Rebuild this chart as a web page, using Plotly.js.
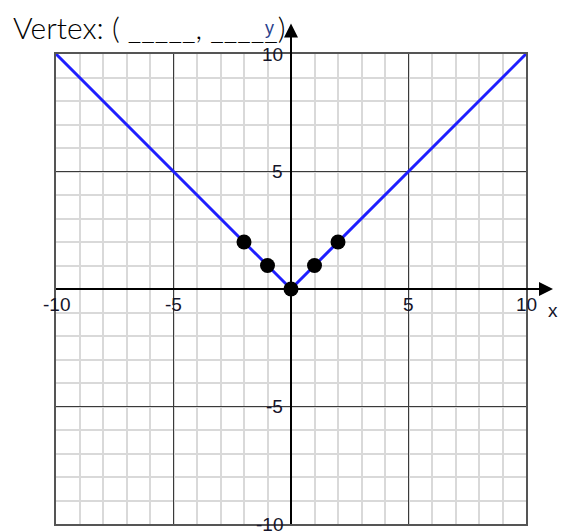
<!DOCTYPE html>
<html><head><meta charset="utf-8">
<script src="https://cdn.plot.ly/plotly-3.0.1.min.js"></script>
<style>body{margin:0;background:#fff}#chart{width:561px;height:531px}</style>
</head><body><div id="chart"></div>
<script>
const lineX = [-10, 0, 10];
const lineY = [10, 0, 10];
const pointX = [-2, -1, 0, 1, 2];
const pointY = [2, 1, 0, 1, 2];
const xTickVals = [-10, -5, 5, 10];
const yTickVals = [-10, -5, 5, 10];
const titleText = 'Vertex: ( _____, _____)';

const labelFont = {family: 'Liberation Sans, Arial, sans-serif', size: 19, color: '#15152a'};
const annotations = [];
xTickVals.forEach(v => annotations.push({x: v, y: 0, xref: 'x', yref: 'y', text: String(v), showarrow: false,
  xanchor: 'center', yanchor: 'top', yshift: -3, font: labelFont}));
yTickVals.forEach(v => annotations.push({x: 0, y: v, xref: 'x', yref: 'y', text: String(v), showarrow: false,
  xanchor: 'right', yanchor: 'middle', xshift: -6, font: labelFont}));
// axis arrows
annotations.push({x: 0, y: 11.3, xref: 'x', yref: 'y', ax: 0, ay: 0, axref: 'x', ayref: 'y', showarrow: true,
  arrowhead: 2, arrowsize: 1.4, arrowwidth: 2, arrowcolor: '#000', text: ''});
annotations.push({x: 11.15, y: 0, xref: 'x', yref: 'y', ax: 0, ay: 0, axref: 'x', ayref: 'y', showarrow: true,
  arrowhead: 2, arrowsize: 1.4, arrowwidth: 2, arrowcolor: '#000', text: ''});
annotations.push({x: 1.057, y: 0.455, xref: 'paper', yref: 'paper', text: 'x', showarrow: false, xanchor: 'center', yanchor: 'middle',
  font: {family: 'Liberation Sans, Arial, sans-serif', size: 19, color: '#15152a'}});
annotations.push({x: 0.454, y: 1.056, xref: 'paper', yref: 'paper', text: 'y', showarrow: false, xanchor: 'center', yanchor: 'middle',
  font: {family: 'Liberation Sans, Arial, sans-serif', size: 18, color: '#2b3f8c'}});
annotations.push({x: 0, y: 1, xref: 'paper', yref: 'paper', text: titleText, showarrow: false, xanchor: 'left', yanchor: 'middle',
  xshift: -45, yshift: 27, font: {family: 'Lato, Liberation Sans, sans-serif', size: 30, weight: 300, color: '#000'}});

const axisCommon = {
  range: [-10, 10], tickvals: [-10, -5, 0, 5, 10], showticklabels: false, ticks: '',
  showgrid: true, gridcolor: '#3a3a3a', gridwidth: 1,
  zeroline: true, zerolinecolor: '#000', zerolinewidth: 2,
  minor: {dtick: 1, showgrid: true, gridcolor: '#d9d9d9', gridwidth: 2, ticks: ''},
  showline: true, linecolor: '#555', linewidth: 2, mirror: true, fixedrange: true
};

Plotly.newPlot('chart', [
  {x: lineX, y: lineY, mode: 'lines', line: {color: '#1f1fff', width: 3}, hoverinfo: 'skip', cliponaxis: false},
  {x: pointX, y: pointY, mode: 'markers', marker: {color: '#000', size: 15}, cliponaxis: false}
], {
  width: 561, height: 531, showlegend: false,
  margin: {l: 56, r: 35, t: 54, b: 7},
  paper_bgcolor: '#fff', plot_bgcolor: '#fff',
  xaxis: Object.assign({}, axisCommon),
  yaxis: Object.assign({}, axisCommon),
  annotations: annotations
}, {staticPlot: true});
</script></body></html>
